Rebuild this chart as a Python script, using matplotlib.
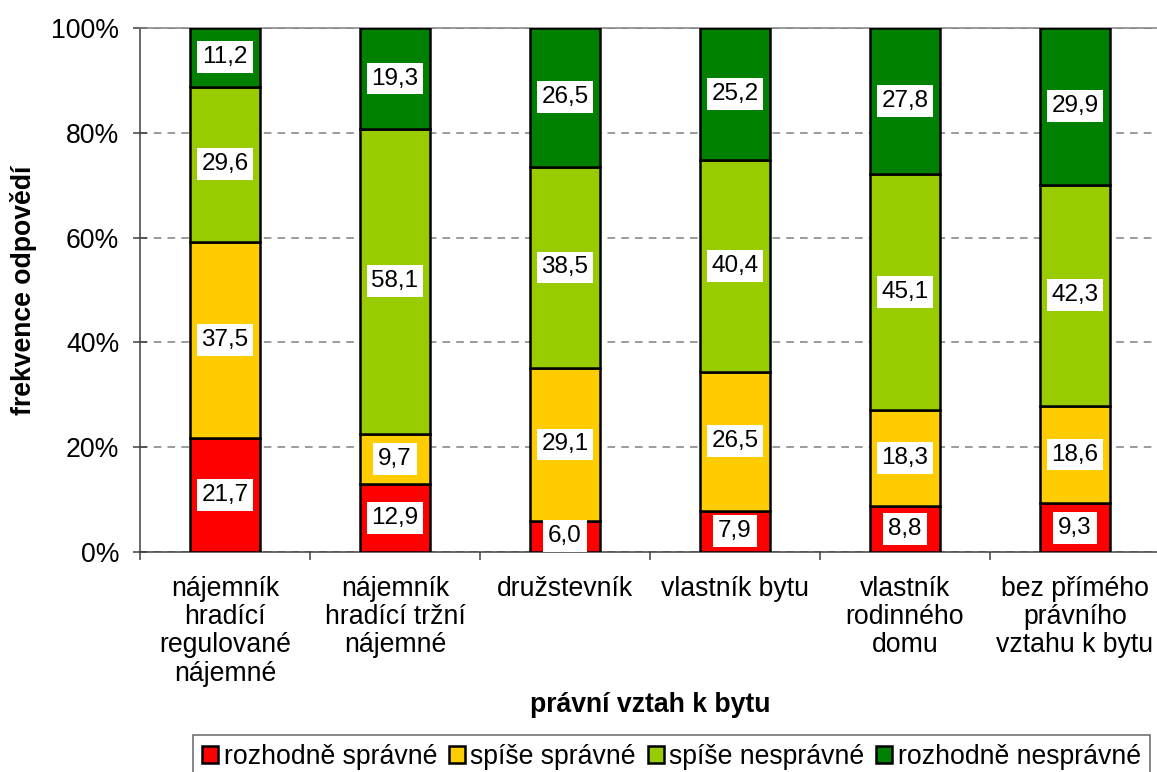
import matplotlib.pyplot as plt
from matplotlib.patches import Patch
import numpy as np

plt.rcParams['font.family'] = ['Liberation Sans', 'DejaVu Sans']

categories = [
    "nájemník\nhradící\nregulované\nnájemné",
    "nájemník\nhradící tržní\nnájemné",
    "družstevník",
    "vlastník bytu",
    "vlastník\nrodinného\ndomu",
    "bez přímého\nprávního\nvztahu k bytu",
]
series_names = ["rozhodně správné", "spíše správné", "spíše nesprávné", "rozhodně nesprávné"]
rozhodne_spravne = [21.7, 12.9, 6.0, 7.9, 8.8, 9.3]
spise_spravne = [37.5, 9.7, 29.1, 26.5, 18.3, 18.6]
spise_nespravne = [29.6, 58.1, 38.5, 40.4, 45.1, 42.3]
rozhodne_nespravne = [11.2, 19.3, 26.5, 25.2, 27.8, 29.9]
colors = ["#FF0000", "#FFCC00", "#99CC00", "#008000"]

data = np.array([rozhodne_spravne, spise_spravne, spise_nespravne, rozhodne_nespravne])
shares = data / data.sum(axis=0) * 100

fs = 19.2

fig = plt.figure(figsize=(11.57, 7.72), dpi=100)
ax = fig.add_axes([140 / 1157, 1 - 552 / 772, 1020 / 1157, 524 / 772])

x = np.arange(len(categories))
bottom = np.zeros(len(categories))
for i in range(4):
    ax.bar(x, shares[i], 0.41, bottom=bottom, color=colors[i],
           edgecolor="black", linewidth=1.8, zorder=3)
    for xi, b, h, v in zip(x, bottom, shares[i], data[i]):
        ax.text(xi, b + h / 2, f"{v:.1f}".replace(".", ","), ha="center", va="center",
                fontsize=17.5, zorder=4,
                bbox=dict(facecolor="white", edgecolor="none", pad=3.5))
    bottom += shares[i]

ax.set_xlim(-0.5, 5.5)
ax.set_ylim(0, 100)
ax.set_yticks([0, 20, 40, 60, 80, 100])
ax.set_yticklabels([f"{v}%" for v in [0, 20, 40, 60, 80, 100]], fontsize=fs)
ax.yaxis.grid(True, linestyle=(0, (5, 4)), color="#808080", linewidth=1.1, zorder=0)
ax.tick_params(axis="y", direction="inout", length=10, width=1.1, color="#404040", pad=10)

ax.set_xticks(np.arange(-0.5, 6, 1))
ax.set_xticklabels([])
ax.tick_params(axis="x", which="major", direction="out", length=6, width=1.1, color="#404040")
ax.set_xticks(x, minor=True)
ax.set_xticklabels(categories, minor=True, fontsize=fs, linespacing=1.12)
ax.tick_params(axis="x", which="minor", length=0, pad=17)

for side in ["left", "bottom"]:
    ax.spines[side].set_color("#404040")
    ax.spines[side].set_linewidth(1.1)
ax.spines["top"].set_color("#808080")
ax.spines["top"].set_linewidth(1.1)
ax.spines["right"].set_visible(False)

ax.set_xlabel("právní vztah k bytu", fontsize=fs, fontweight="bold", labelpad=4)
ax.set_ylabel("frekvence odpovědí", fontsize=fs, fontweight="bold", labelpad=10)

handles = [Patch(facecolor=c, edgecolor="black", linewidth=1.8) for c in colors]
leg = fig.legend(handles, series_names, loc="upper left",
                 bbox_to_anchor=(193 / 1157, 1 - 735 / 772), ncol=4, fontsize=fs,
                 frameon=True, fancybox=False, edgecolor="#404040",
                 handlelength=0.6, handleheight=0.6, handletextpad=0.2,
                 columnspacing=0.45, borderpad=0.35, borderaxespad=0)
leg.get_frame().set_linewidth(1.1)

fig.savefig("out.png", dpi=100)
